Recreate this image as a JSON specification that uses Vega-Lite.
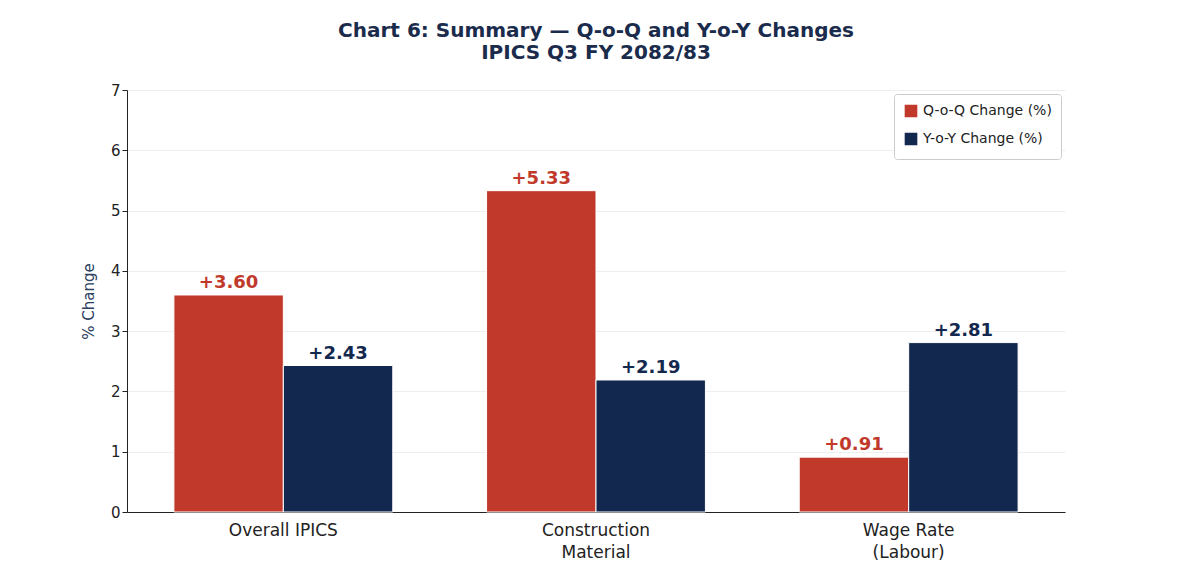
{
  "$schema": "https://vega.github.io/schema/vega-lite/v6.json",
  "autosize": "none",
  "width": 938,
  "height": 422,
  "padding": {"left": 127, "top": 90, "right": 135, "bottom": 63},
  "background": "white",
  "title": {
    "text": "Chart 6: Summary — Q-o-Q and Y-o-Y Changes",
    "subtitle": "IPICS Q3 FY 2082/83",
    "font": "DejaVu Sans",
    "fontSize": 20,
    "fontWeight": "bold",
    "color": "#1a2b4c",
    "subtitleFont": "DejaVu Sans",
    "subtitleFontSize": 20,
    "subtitleFontWeight": "bold",
    "subtitleColor": "#1a2b4c",
    "subtitlePadding": 2,
    "anchor": "middle",
    "offset": 20
  },
  "data": {
    "values": [
      {"category": "Overall IPICS", "series": "Q-o-Q Change (%)", "value": 3.60},
      {"category": "Overall IPICS", "series": "Y-o-Y Change (%)", "value": 2.43},
      {"category": "Construction Material", "series": "Q-o-Q Change (%)", "value": 5.33},
      {"category": "Construction Material", "series": "Y-o-Y Change (%)", "value": 2.19},
      {"category": "Wage Rate (Labour)", "series": "Q-o-Q Change (%)", "value": 0.91},
      {"category": "Wage Rate (Labour)", "series": "Y-o-Y Change (%)", "value": 2.81}
    ]
  },
  "encoding": {
    "x": {
      "field": "category",
      "type": "nominal",
      "sort": null,
      "title": null,
      "scale": {"paddingInner": 0.3, "paddingOuter": 0.15},
      "axis": {
        "labelAngle": 0,
        "labelFont": "DejaVu Sans",
        "labelFontSize": 17,
        "labelColor": "#222",
        "domainColor": "#222",
        "ticks": false,
        "labelPadding": 10,
        "labelLineHeight": 22,
        "labelExpr": "datum.value == 'Construction Material' ? ['Construction', 'Material'] : datum.value == 'Wage Rate (Labour)' ? ['Wage Rate', '(Labour)'] : datum.value"
      }
    },
    "xOffset": {"field": "series", "type": "nominal", "scale": {"paddingInner": 0}},
    "y": {
      "field": "value",
      "type": "quantitative",
      "title": "% Change",
      "scale": {"domain": [0, 7]},
      "axis": {
        "tickCount": 7,
        "labelFont": "DejaVu Sans",
        "labelFontSize": 15,
        "labelColor": "#222",
        "titleFont": "DejaVu Sans",
        "titleFontSize": 15,
        "titleFontWeight": "normal",
        "titleColor": "#2c4060",
        "titlePadding": 14,
        "domainColor": "#222",
        "tickColor": "#222",
        "gridColor": "#eeeeee"
      }
    },
    "color": {
      "field": "series",
      "type": "nominal",
      "title": null,
      "scale": {"domain": ["Q-o-Q Change (%)", "Y-o-Y Change (%)"], "range": ["#c0392b", "#13284f"]},
      "legend": {
        "orient": "top-right",
        "offset": 4,
        "symbolType": "square",
        "symbolSize": 200,
        "labelFont": "DejaVu Sans",
        "labelFontSize": 14,
        "labelColor": "#222",
        "strokeColor": "#cccccc",
        "padding": 9,
        "cornerRadius": 3,
        "fillColor": "white",
        "rowPadding": 6
      }
    }
  },
  "layer": [
    {"mark": {"type": "bar", "stroke": "white", "strokeWidth": 1}},
    {
      "mark": {"type": "text", "dy": -12, "font": "DejaVu Sans", "fontSize": 18, "fontWeight": "bold"},
      "encoding": {
        "text": {"field": "value", "type": "quantitative", "format": "+.2f"}
      }
    }
  ],
  "config": {"view": {"stroke": null}}
}
